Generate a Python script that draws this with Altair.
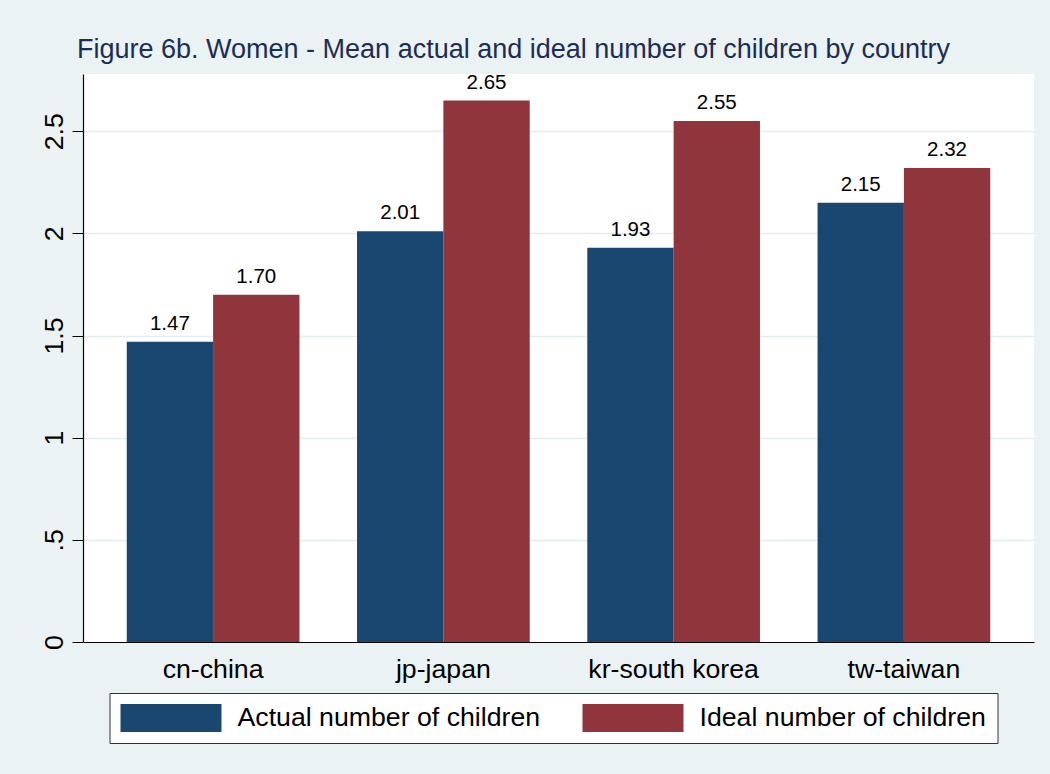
import altair as alt
import pandas as pd

countries = ["cn-china", "jp-japan", "kr-south korea", "tw-taiwan"]
actual = [1.47, 2.01, 1.93, 2.15]
ideal = [1.70, 2.65, 2.55, 2.32]
series = ["Actual number of children", "Ideal number of children"]
colors = ["#1A476F", "#90353B"]
y_ticks = [0, 0.5, 1, 1.5, 2, 2.5]
title_text = "Figure 6b. Women - Mean actual and ideal number of children by country"

rows = []
for c, a, i in zip(countries, actual, ideal):
    rows.append({"country": c, "series": series[0], "value": a})
    rows.append({"country": c, "series": series[1], "value": i})
df = pd.DataFrame(rows)

FONT = "Liberation Sans"

x_enc = alt.X(
    "country:N",
    sort=countries,
    title=None,
    scale=alt.Scale(paddingInner=0.25, paddingOuter=0.19),
    axis=alt.Axis(
        labelAngle=0,
        ticks=False,
        tickSize=0,
        labelPadding=35,
        labelBaseline="alphabetic",
        labelFontSize=26.7,
        labelFont=FONT,
        labelColor="black",
        domainColor="black",
        domainWidth=1.2,
        grid=False,
    ),
)

y_enc = alt.Y(
    "value:Q",
    title=None,
    scale=alt.Scale(domain=[0, 2.78], nice=False, zero=True),
    axis=alt.Axis(
        values=y_ticks,
        labelExpr="datum.value == 0.5 ? '.5' : format(datum.value, '~g')",
        labelAngle=270,
        labelAlign="center",
        labelBaseline="alphabetic",
        labelPadding=10,
        tickSize=11,
        tickColor="black",
        domainColor="black",
        domainWidth=1.2,
        gridColor="#E3ECEE",
        gridWidth=1.5,
        labelFontSize=26.7,
        labelFont=FONT,
        labelColor="black",
    ),
)

base = alt.Chart(df).encode(
    x=x_enc,
    xOffset=alt.XOffset("series:N", sort=series),
    y=y_enc,
)

# legend swatch: 101 x 28 px rectangle, laid out as a 28 px symbol
bars = base.mark_bar().encode(
    color=alt.Color(
        "series:N",
        sort=series,
        scale=alt.Scale(domain=series, range=colors),
        legend=alt.Legend(
            title=None,
            orient="none",
            legendX=26.5,
            legendY=619,
            direction="horizontal",
            columns=2,
            symbolType="M-1,-1H6.214V1H-1Z",
            symbolSize=784,
            symbolStrokeWidth=0,
            symbolOpacity=1,
            labelFontSize=26.7,
            labelFont=FONT,
            labelColor="black",
            labelLimit=600,
            labelOffset=89,
            columnPadding=42,
            padding=11,
            fillColor="white",
            strokeColor="#333333",
        ),
    )
)

labels = base.mark_text(
    baseline="alphabetic", dy=-12, fontSize=20.5, font=FONT, color="black"
).encode(text=alt.Text("value:Q", format=".2f"))

chart = (
    alt.layer(bars, labels)
    .properties(
        width=951,
        height=568,
        autosize=alt.AutoSizeParams(type="none"),
        padding={"left": 83, "top": 74, "right": 16, "bottom": 132},
        background="#EAF2F3",
        title=alt.TitleParams(
            text=title_text,
            anchor="start",
            frame="group",
            dx=-6,
            dy=29,
            offset=17,
            baseline="alphabetic",
            fontSize=27,
            font=FONT,
            fontWeight="normal",
            color="#1C2D54",
        ),
    )
    .configure_view(fill="white", strokeWidth=0)
)

chart.save("out.html", embed_options={"renderer": "svg", "actions": False})
